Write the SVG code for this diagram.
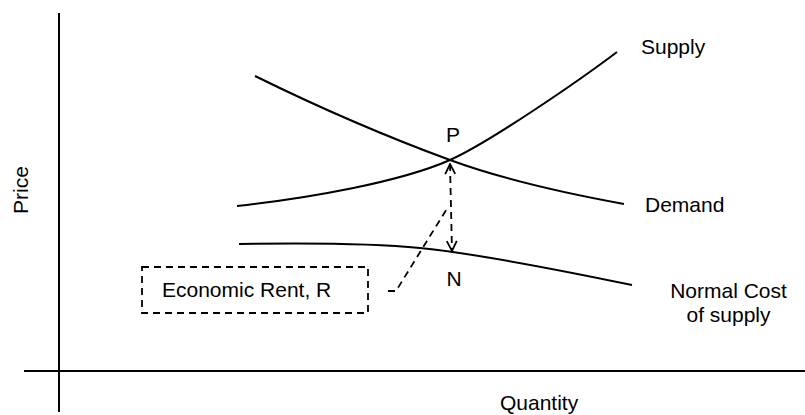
<svg xmlns="http://www.w3.org/2000/svg" width="805" height="415" viewBox="0 0 805 415">
  <style>
    .ax { stroke: #000; stroke-width: 2; fill: none; }
    .crv { stroke: #000; stroke-width: 2; fill: none; }
    .dash { stroke: #000; stroke-width: 1.8; fill: none; stroke-dasharray: 7 5; }
    .lbl { font-family: "Liberation Sans", Arial, sans-serif; font-size: 21px; fill: #000; }
  </style>
  <defs>
    <marker id="vhead" viewBox="0 0 12 12" refX="11" refY="6" markerWidth="12" markerHeight="12" markerUnits="userSpaceOnUse" orient="auto-start-reverse">
      <path d="M1,1 L11,6 L1,11" fill="none" stroke="#000" stroke-width="1.8"/>
    </marker>
  </defs>
  <rect width="805" height="415" fill="#fff"/>

  <g id="axes">
    <line class="ax" x1="59" y1="13" x2="59" y2="412"/>
    <line class="ax" x1="24" y1="371" x2="805" y2="371"/>
    <text class="lbl" text-anchor="middle" transform="translate(28,190) rotate(-90)">Price</text>
    <text class="lbl" x="500" y="410">Quantity</text>
  </g>

  <g id="supply">
    <path class="crv" d="M237,206 C310,198 400,182 450,160 C490,142 580,80 617,52"/>
    <text class="lbl" x="641" y="54">Supply</text>
  </g>

  <g id="demand">
    <path class="crv" d="M255,76 C320,108 390,138 450,160 C510,182 580,196 624,204"/>
    <text class="lbl" x="645" y="212">Demand</text>
  </g>

  <g id="normal-cost">
    <path class="crv" d="M239,244 C300,243 370,243 420,248 C470,253 560,270 632,285"/>
    <text class="lbl" text-anchor="middle" x="728.5" y="298">Normal Cost</text>
    <text class="lbl" text-anchor="middle" x="728.5" y="322">of supply</text>
  </g>

  <g id="point-P">
    <text class="lbl" text-anchor="middle" x="453" y="142">P</text>
  </g>

  <g id="point-N">
    <text class="lbl" text-anchor="middle" x="454" y="286">N</text>
  </g>

  <g id="economic-rent">
    <rect class="dash" x="142" y="267" width="226" height="46"/>
    <text class="lbl" x="162" y="297">Economic Rent, R</text>
  </g>

  <g id="connectors">
    <line class="dash" x1="450" y1="164" x2="452" y2="251" stroke-dasharray="6 4" marker-start="url(#vhead)" marker-end="url(#vhead)"/>
    <polyline class="dash" points="388,291 396,291 448,207"/>
  </g>
</svg>
